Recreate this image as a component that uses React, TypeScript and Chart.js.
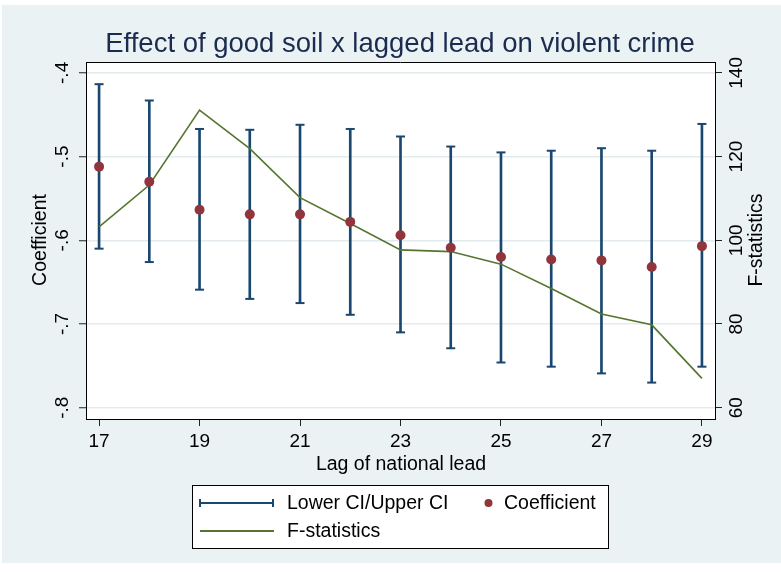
import React, { useEffect, useRef } from "react";
import { Chart, registerables } from "chart.js";

Chart.register(...registerables);

const titleText = "Effect of good soil x lagged lead on violent crime";
const xTitle = "Lag of national lead";
const yTitle = "Coefficient";
const y2Title = "F-statistics";

const lags = [17, 18, 19, 20, 21, 22, 23, 24, 25, 26, 27, 28, 29];
const coef = [-0.512, -0.530, -0.5636, -0.569, -0.569, -0.578, -0.594, -0.609, -0.620, -0.623, -0.624, -0.632, -0.607];
const ciLow = [-0.610, -0.626, -0.659, -0.670, -0.675, -0.689, -0.710, -0.729, -0.746, -0.751, -0.759, -0.770, -0.751];
const ciHigh = [-0.4135, -0.433, -0.467, -0.468, -0.462, -0.467, -0.476, -0.488, -0.495, -0.493, -0.490, -0.493, -0.461];
const fStat = [103.2, 113.2, 131.1, 121.9, 110.2, 104.0, 97.7, 97.3, 94.3, 88.5, 82.4, 79.8, 67.0];

const xTicks = [17, 19, 21, 23, 25, 27, 29];
const yTicks = [-0.8, -0.7, -0.6, -0.5, -0.4];
const yTickLabels = ["-.8", "-.7", "-.6", "-.5", "-.4"];
const y2Ticks = [60, 80, 100, 120, 140];
const y2TickLabels = ["60", "80", "100", "120", "140"];

const NAVY = "#1a476f";
const MAROON = "#90353b";
const GREEN = "#55752f";
const BG = "#eaf2f3";
const GRID = "#e3ebee";
const FONT = '"Liberation Sans", Arial, sans-serif';

const textPlugin = {
  id: "stataDecor",
  beforeDraw(chart: any) {
    const { ctx, chartArea } = chart;
    ctx.save();
    ctx.fillStyle = "#ffffff";
    ctx.fillRect(0, 0, chart.width, chart.height);
    ctx.fillStyle = BG;
    ctx.fillRect(2, 5, chart.width - 2, 558);
    ctx.fillStyle = "#ffffff";
    ctx.fillRect(chartArea.left, chartArea.top, chartArea.right - chartArea.left, chartArea.bottom - chartArea.top);
    ctx.restore();
  },
  afterDraw(chart: any) {
    const { ctx, chartArea, scales } = chart;
    ctx.save();
    ctx.strokeStyle = "#000";
    ctx.lineWidth = 1;
    ctx.beginPath();
    ctx.moveTo(chartArea.left, chartArea.top + 0.5);
    ctx.lineTo(chartArea.right, chartArea.top + 0.5);
    ctx.stroke();

    ctx.fillStyle = "#1c2b50";
    ctx.font = `27.5px ${FONT}`;
    ctx.textAlign = "center";
    ctx.textBaseline = "alphabetic";
    ctx.fillText(titleText, 400, 52);

    ctx.fillStyle = "#000";
    ctx.font = `19.5px ${FONT}`;
    ctx.fillText(xTitle, 401, 470);

    const drawRot = (txt: string, x: number, y: number, size: number) => {
      ctx.save();
      ctx.translate(x, y);
      ctx.rotate(-Math.PI / 2);
      ctx.font = `${size}px ${FONT}`;
      ctx.textAlign = "center";
      ctx.textBaseline = "middle";
      ctx.fillStyle = "#000";
      ctx.fillText(txt, 0, 0);
      ctx.restore();
    };
    yTicks.forEach((v, i) => drawRot(yTickLabels[i], 63, scales.y.getPixelForValue(v), 19));
    y2Ticks.forEach((v, i) => drawRot(y2TickLabels[i], 737, scales.y2.getPixelForValue(v), 19));
    drawRot(yTitle, 41, 240, 19.5);
    drawRot(y2Title, 757, 240, 19.5);

    const ds = chart.data.datasets;
    ctx.fillStyle = "#fff";
    ctx.fillRect(192, 485, 416, 63);
    ctx.strokeStyle = "#000";
    ctx.lineWidth = 1;
    ctx.strokeRect(192.5, 485.5, 416, 63);
    ctx.strokeStyle = NAVY;
    ctx.lineWidth = 2;
    ctx.beginPath();
    ctx.moveTo(199, 503);
    ctx.lineTo(274, 503);
    ctx.moveTo(200, 499);
    ctx.lineTo(200, 507);
    ctx.moveTo(273, 499);
    ctx.lineTo(273, 507);
    ctx.stroke();
    ctx.strokeStyle = GREEN;
    ctx.beginPath();
    ctx.moveTo(200, 531);
    ctx.lineTo(274, 531);
    ctx.stroke();
    ctx.fillStyle = MAROON;
    ctx.beginPath();
    ctx.arc(488.5, 503, 4, 0, Math.PI * 2);
    ctx.fill();
    ctx.fillStyle = "#000";
    ctx.font = `19.5px ${FONT}`;
    ctx.textAlign = "left";
    ctx.textBaseline = "middle";
    ctx.fillText(ds[0].label, 287, 504);
    ctx.fillText(ds[4].label, 504, 504);
    ctx.fillText(ds[3].label, 287, 532);
    ctx.restore();
  },
};

export default function App() {
  const ref = useRef<HTMLCanvasElement | null>(null);
  useEffect(() => {
    document.body.style.margin = "0";
    const canvas = ref.current!;
    const chart = new Chart(canvas, {
      type: "bar",
      data: {
        datasets: [
          {
            type: "bar",
            label: "Lower CI/Upper CI",
            data: lags.map((x, i) => ({ x, y: [ciLow[i], ciHigh[i]] })) as any,
            backgroundColor: NAVY,
            borderWidth: 0,
            barThickness: 2,
            xAxisID: "x",
            yAxisID: "y",
            order: 3,
          },
          {
            type: "scatter",
            label: "capHigh",
            data: lags.map((x, i) => ({ x, y: ciHigh[i] })),
            pointStyle: "line",
            pointRadius: 4.5,
            borderColor: NAVY,
            borderWidth: 2,
            xAxisID: "x",
            yAxisID: "y",
            order: 2,
          },
          {
            type: "scatter",
            label: "capLow",
            data: lags.map((x, i) => ({ x, y: ciLow[i] })),
            pointStyle: "line",
            pointRadius: 4.5,
            borderColor: NAVY,
            borderWidth: 2,
            xAxisID: "x",
            yAxisID: "y",
            order: 2,
          },
          {
            type: "line",
            label: "F-statistics",
            data: lags.map((x, i) => ({ x, y: fStat[i] })),
            borderColor: GREEN,
            borderWidth: 1.6,
            pointRadius: 0,
            tension: 0,
            fill: false,
            xAxisID: "x",
            yAxisID: "y2",
            order: 1,
          },
          {
            type: "scatter",
            label: "Coefficient",
            data: lags.map((x, i) => ({ x, y: coef[i] })),
            pointStyle: "circle",
            pointRadius: 5,
            backgroundColor: MAROON,
            borderWidth: 0,
            xAxisID: "x",
            yAxisID: "y",
            order: 0,
          },
        ] as any,
      },
      options: {
        animation: false,
        responsive: false,
        devicePixelRatio: 1,
        events: [],
        layout: { padding: { top: 62, left: 0, right: 0, bottom: 0 } },
        plugins: { legend: { display: false }, tooltip: { enabled: false }, title: { display: false } },
        scales: {
          x: {
            type: "linear",
            position: "bottom",
            min: 16.74,
            max: 29.26,
            offset: false,
            afterBuildTicks: (s: any) => {
              s.ticks = xTicks.map((v) => ({ value: v }));
            },
            afterFit: (s: any) => {
              s.height = 153;
            },
            ticks: {
              font: { family: FONT, size: 19 },
              color: "#000",
              padding: 4,
              maxRotation: 0,
              minRotation: 0,
              callback: (v: any) => String(v),
            },
            grid: { display: true, drawOnChartArea: false, tickLength: 7, tickColor: "#222", offset: false },
            border: { display: true, color: "#000", width: 1 },
          },
          y: {
            type: "linear",
            position: "left",
            min: -0.8135,
            max: -0.387,
            beginAtZero: false,
            afterBuildTicks: (s: any) => {
              s.ticks = yTicks.map((v) => ({ value: v }));
            },
            afterFit: (s: any) => {
              s.width = 86;
            },
            ticks: { display: false },
            grid: { display: true, drawOnChartArea: true, color: GRID, lineWidth: 1.5, tickLength: 7, tickColor: "#222", tickWidth: 1 },
            border: { display: true, color: "#000", width: 1 },
          },
          y2: {
            type: "linear",
            position: "right",
            min: 57.3,
            max: 142.6,
            beginAtZero: false,
            afterBuildTicks: (s: any) => {
              s.ticks = y2Ticks.map((v) => ({ value: v }));
            },
            afterFit: (s: any) => {
              s.width = 66;
            },
            ticks: { display: false },
            grid: { display: true, drawOnChartArea: false, tickLength: 7, tickColor: "#222", tickWidth: 1 },
            border: { display: true, color: "#000", width: 1 },
          },
        },
      } as any,
      plugins: [textPlugin],
    });
    return () => chart.destroy();
  }, []);
  return (
    <div style={{ position: "fixed", left: 0, top: 0, width: 781, height: 572 }}>
      <canvas ref={ref} width={781} height={572} style={{ width: 781, height: 572, display: "block" }} />
    </div>
  );
}
